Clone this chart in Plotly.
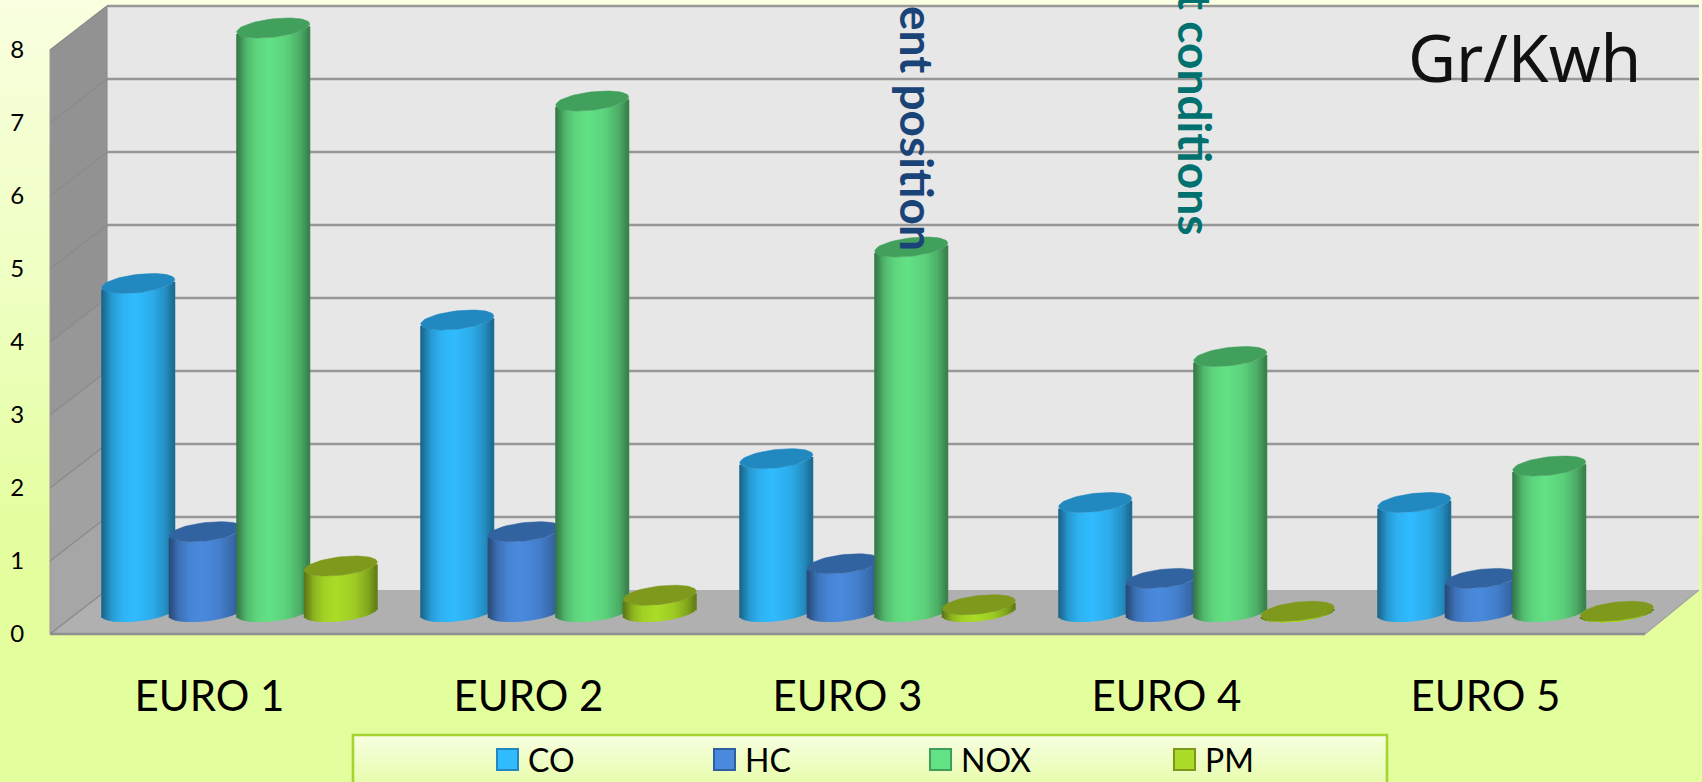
import math
import plotly.graph_objects as go

# ---- data ----
categories = ["EURO 1", "EURO 2", "EURO 3", "EURO 4", "EURO 5"]
co = [4.5, 4.0, 2.1, 1.5, 1.5]
hc = [1.1, 1.1, 0.66, 0.46, 0.46]
nox = [8.0, 7.0, 5.0, 3.5, 2.0]
pm = [0.63, 0.23, 0.1, 0.01, 0.01]
series_names = ["CO", "HC", "NOX", "PM"]
y_ticks = [0, 1, 2, 3, 4, 5, 6, 7, 8]

# ---- figure frame: the plot area runs to the page's top and right edges ----
W, H = 1702, 782
L, B = 50, 148
FRONT_W, FRONT_H = 1595, 584     # front plane of the chart box, pixels
PX_X = FRONT_W / 5               # pixels per category
PX_Y = FRONT_H / 8               # pixels per y unit
PW, PH = W - L, H - B
X_RANGE = [-0.5, -0.5 + PW / PX_X]
Y_RANGE = [0, PH / PX_Y]
DEPTH_X_L, DEPTH_X_R, DEPTH_Y = 57, 54, 44


def hexrgb(c):
    return tuple(int(c[i:i + 2], 16) for i in (1, 3, 5))


def mix(a, b, t):
    ca, cb = hexrgb(a), hexrgb(b)
    return "#%02x%02x%02x" % tuple(round(ca[i] + (cb[i] - ca[i]) * t) for i in range(3))


def ramp(stops, t):
    for (t0, c0), (t1, c1) in zip(stops, stops[1:]):
        if t <= t1:
            return mix(c0, c1, (t - t0) / (t1 - t0) if t1 > t0 else 0)
    return stops[-1][1]


def fx(px):
    return (px - L) / PW


def fy(py):
    return (H - B - py) / PH


shapes = []


def band(y0, y1, stops, x0=0, x1=W, n=None):
    n = n or max(1, int((y1 - y0) / 6))
    for i in range(n):
        a = y0 + (y1 - y0) * i / n
        b = y0 + (y1 - y0) * (i + 1) / n
        shapes.append(dict(type="rect", xref="paper", yref="paper", layer="below",
                           x0=fx(x0), x1=fx(x1), y0=fy(a), y1=fy(b + 1),
                           fillcolor=ramp(stops, (i + .5) / n), line_width=0))


def poly(pts, fill=None, line=None, lw=0, layer="below"):
    path = "M " + " L ".join(f"{fx(x):.5f},{fy(y):.5f}" for x, y in pts)
    if fill:
        path += " Z"
    shapes.append(dict(type="path", xref="paper", yref="paper", layer=layer, path=path,
                       fillcolor=fill or "rgba(0,0,0,0)",
                       line=dict(color=line or "rgba(0,0,0,0)", width=lw)))


# page background
band(0, H, [(0, "#f9ffe0"), (0.38, "#eeffc0"), (0.68, "#e4fe9f"), (1, "#e3fe9c")])

# chart box
T = H - B - FRONT_H
x_fl, x_fr = L, L + FRONT_W
y_f0 = H - B
x_bl, x_br = x_fl + DEPTH_X_L, x_fr + DEPTH_X_R
poly([(x_bl, y_f0 - DEPTH_Y), (x_br, y_f0 - DEPTH_Y),
      (x_br, T - DEPTH_Y), (x_bl, T - DEPTH_Y)], fill="#e7e7e7")
poly([(x_fl, y_f0), (x_fr, y_f0), (x_br, y_f0 - DEPTH_Y), (x_bl, y_f0 - DEPTH_Y)], fill="#b0b0b0")
for i in range(8):
    y0 = y_f0 - i * PX_Y
    y1 = y_f0 - (i + 1) * PX_Y
    poly([(x_fl, y0), (x_bl, y0 - DEPTH_Y), (x_bl, y1 - DEPTH_Y), (x_fl, y1)],
         fill=mix("#a6a6a6", "#929292", min(1, i / 4)))
for v in y_ticks:
    y = y_f0 - v * PX_Y
    if v > 0:
        poly([(x_bl, y - DEPTH_Y), (x_br, y - DEPTH_Y)], line="#979797", lw=2.4)
    poly([(x_fl, y), (x_bl, y - DEPTH_Y)], line="#8a8a8a", lw=1.4)
poly([(x_fl, y_f0), (x_fr, y_f0)], line="#8e8e8e", lw=2.6)
poly([(x_fr, y_f0), (x_br, y_f0 - DEPTH_Y)], line="#a4a4a4", lw=1.2)
poly([(x_bl, y_f0 - DEPTH_Y), (x_bl, T - DEPTH_Y)], line="#8e8e8e", lw=1.2)
poly([(x_fl, T), (x_fl, y_f0)], line="#9a9a9a", lw=1)

# ---- cylinders ----
values = [co, hc, nox, pm]
side_colors = ["#30bbff", "#4a8ade", "#63e185", "#abdc27"]
top_colors = ["#2189c0", "#30639f", "#42a05d", "#7f991c"]
edge_colors = ["#2187bf", "#2f5f9e", "#3f9e5a", "#7d981b"]

SLOT = 67.5 / PX_X
BAR_W = 73 / PX_X
GROUP_SHIFT = 30 / PX_X
BASE_Y = 22 / PX_Y      # floor depth at which the bars stand
A = BAR_W / 2
B_Y = 9.2 / PX_Y
SKEW = 4.0 / PX_Y
N = 36
shade = [(0, 0.52), (0.05, 0.62), (0.14, 0.82), (0.28, 0.95), (0.46, 1.0),
         (0.7, 0.92), (0.88, 0.76), (1, 0.56)]


def shade_at(t):
    for (t0, s0), (t1, s1) in zip(shade, shade[1:]):
        if t <= t1:
            return s0 + (s1 - s0) * (t - t0) / (t1 - t0)
    return shade[-1][1]


traces = []
for s, name in enumerate(series_names):
    axis_id = "" if s == 0 else str(s + 1)
    xa, ya = "x" + axis_id, "y" + axis_id
    centers = [i + GROUP_SHIFT + (s - 1.5) * SLOT for i in range(len(categories))]
    for k in range(N):
        u = -1 + (2 * k + 1) / N
        t = (u + 1) / 2
        arc = SKEW * u - B_Y * math.sqrt(max(0, 1 - u * u))
        traces.append(go.Bar(
            x=[c + u * A for c in centers],
            y=values[s],
            base=BASE_Y + arc,
            width=(BAR_W / N) * 1.5,
            marker=dict(color=mix("#000000", side_colors[s], shade_at(t)), line_width=0),
            name=name, xaxis=xa, yaxis=ya,
            showlegend=False, hoverinfo="skip",
        ))
    ex, ey = [], []
    for c, v in zip(centers, values[s]):
        for j in range(61):
            th = 2 * math.pi * j / 60
            ex.append(c + A * math.cos(th))
            ey.append(BASE_Y + v + B_Y * math.sin(th) + SKEW * math.cos(th))
        ex.append(None)
        ey.append(None)
    traces.append(go.Scatter(
        x=ex, y=ey, mode="lines", fill="toself", fillcolor=top_colors[s],
        line=dict(color=top_colors[s], width=0.5),
        name=name, xaxis=xa, yaxis=ya,
        showlegend=False, hoverinfo="skip",
    ))

fig = go.Figure(traces)

# ---- legend panel ----
band(735, 790, [(0, "#f7ffe2"), (1, "#e5fca4")], x0=353, x1=1387, n=14)
poly([(353, 790), (353, 735), (1387, 735), (1387, 790)], line="#a5d431", lw=2.6)
legend_sw = [497, 714, 930, 1174]
annotations = []
for s, name in enumerate(series_names):
    shapes.append(dict(type="rect", xref="paper", yref="paper", layer="above",
                       x0=fx(legend_sw[s]), x1=fx(legend_sw[s] + 21),
                       y0=fy(749), y1=fy(770), fillcolor=side_colors[s],
                       line=dict(color=edge_colors[s], width=2)))
    annotations.append(dict(xref="paper", yref="paper", x=fx(legend_sw[s] + 29), y=fy(759),
                            xanchor="left", yanchor="middle", text=name, showarrow=False,
                            font=dict(family="Lato", size=32, color="#000000")))

# ---- free text ----
annotations += [
    dict(xref="paper", yref="paper", x=fx(1524), y=fy(56), text="Gr/Kwh", showarrow=False,
         xanchor="center", yanchor="middle",
         font=dict(family="Noto Sans", size=66, color="#111111")),
    dict(xref="paper", yref="paper", x=fx(917), y=fy(128), text="ent position", showarrow=False,
         textangle=90, xanchor="center", yanchor="middle",
         font=dict(family="Lato", size=46, color="#1a4478", weight=700)),
    dict(xref="paper", yref="paper", x=fx(1196), y=fy(114), text="t conditions", showarrow=False,
         textangle=90, xanchor="center", yanchor="middle",
         font=dict(family="Lato", size=46, color="#00716f", weight=700)),
]

layout = dict(
    width=W, height=H, autosize=False,
    margin=dict(l=L, r=0, t=0, b=B, pad=0),
    paper_bgcolor="#e4fe9f", plot_bgcolor="rgba(0,0,0,0)",
    barmode="overlay", showlegend=False, hovermode=False,
    shapes=shapes, annotations=annotations,
    xaxis=dict(range=X_RANGE, tickmode="array", tickvals=list(range(5)), ticktext=categories,
               automargin=False,
               showgrid=False, zeroline=False, showline=False, ticks="outside", ticklen=26,
               tickcolor="rgba(0,0,0,0)",
               tickfont=dict(family="Lato", size=42, color="#000000")),
    yaxis=dict(range=Y_RANGE, tickmode="array", tickvals=y_ticks, ticktext=[str(v) for v in y_ticks],
               automargin=False,
               showgrid=False, zeroline=False, showline=False, ticks="outside", ticklen=20,
               tickcolor="rgba(0,0,0,0)",
               tickfont=dict(family="Lato", size=24, color="#000000")),
)
for s in range(2, 5):
    layout[f"xaxis{s}"] = dict(range=X_RANGE, overlaying="x", visible=False, automargin=False)
    layout[f"yaxis{s}"] = dict(range=Y_RANGE, overlaying="y", visible=False, automargin=False)
fig.update_layout(**layout)

fig.write_html("out.html", config=dict(displayModeBar=False),
               post_script="document.body.style.margin='0';document.documentElement.style.overflow='hidden';")
